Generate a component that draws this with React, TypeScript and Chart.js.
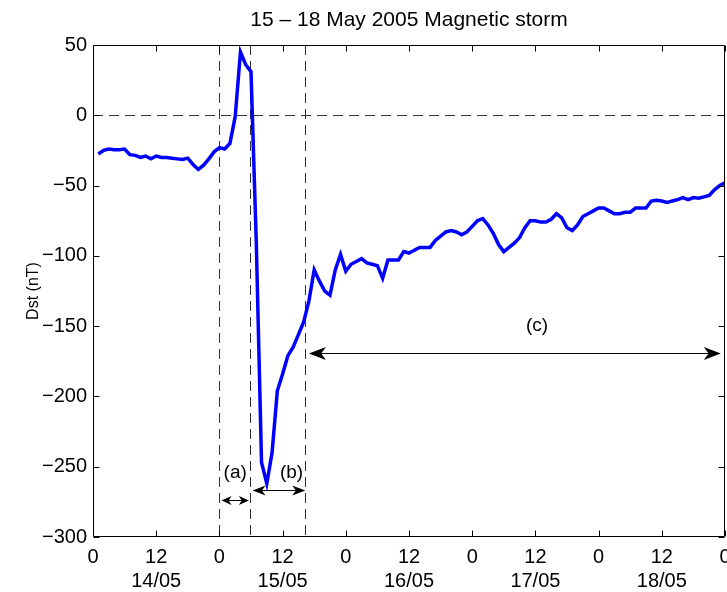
import { useEffect, useRef } from 'react';
import { Chart, registerables } from 'chart.js';

Chart.register(...registerables);

const TITLE = '15 \u2013 18 May 2005 Magnetic storm';
const Y_LABEL = 'Dst (nT)';

// hours since 14/05 00 UT
const HOURS = [
  1, 2, 3, 4, 5, 6, 7, 8, 9, 10, 11, 12, 13, 14, 15, 16, 17, 18, 19, 20,
  21, 22, 23, 24, 25, 26, 27, 28, 29, 30, 31, 32, 33, 34, 35, 36, 37, 38, 39, 40,
  41, 42, 43, 44, 45, 46, 47, 48, 49, 50, 51, 52, 53, 54, 55, 56, 57, 58, 59, 60,
  61, 62, 63, 64, 65, 66, 67, 68, 69, 70, 71, 72, 73, 74, 75, 76, 77, 78, 79, 80,
  81, 82, 83, 84, 85, 86, 87, 88, 89, 90, 91, 92, 93, 94, 95, 96, 97, 98, 99, 100,
  101, 102, 103, 104, 105, 106, 107, 108, 109, 110, 111, 112, 113, 114, 115, 116, 117, 118, 119, 120,
];

const DST = [
  -27.5, -25, -24, -24.5, -24.5, -24, -28, -28.5, -30, -29,
  -31, -29, -30, -30, -30.5, -31, -31.5, -30.5, -35, -38.5,
  -35.5, -31, -26, -23, -24, -20, -1, 45, 36, 31,
  -90, -247, -262, -240, -196, -184, -171, -165, -156, -147,
  -132, -110, -118, -125, -128, -110, -99, -111, -106, -104,
  -102, -105, -106, -107, -116, -103, -103, -103, -97, -98,
  -96, -94, -94, -94, -89, -86, -83, -82, -83, -85,
  -83, -79, -75, -73.5, -78, -84, -92, -97, -94, -91,
  -87, -80, -75, -75, -76, -76, -74, -70, -73, -80,
  -82, -78, -72, -70, -68, -66, -66, -68, -70, -70,
  -69, -69, -66, -66, -66, -61, -60.5, -61, -62, -61,
  -60, -58.5, -60, -58.5, -59, -58, -57, -53, -50, -48,
];

// x tick values (hours) and their labels
const X_TICKS = [0, 12, 24, 36, 48, 60, 72, 84, 96, 108, 120];
const X_TICK_LABELS = ['0', '12', '0', '12', '0', '12', '0', '12', '0', '12', '0'];
const X_DATE_LABELS = ['', '14/05', '', '15/05', '', '16/05', '', '17/05', '', '18/05', ''];
const Y_TICKS = [-300, -250, -200, -150, -100, -50, 0, 50];

// storm phase boundaries (hours)
const PHASE_BOUNDS = [24, 29.8, 40.3];
// arrows: [fromHour, toHour, dstLevel]
const ARROW_A = [24.4, 29.6, -273.5];
const ARROW_B = [30.3, 40.3, -266.5];
const ARROW_C = [41, 119.2, -169];
// labels: [text, hour, dst]
const PHASE_LABELS: [string, number, number][] = [
  ['(a)', 27, -254],
  ['(b)', 37.7, -254],
  ['(c)', 84.3, -150],
];

const FONT = "'Liberation Sans', Arial, Helvetica, sans-serif";

function arrowHead(ctx: CanvasRenderingContext2D, tipX: number, y: number, dir: number, len: number, half: number) {
  ctx.beginPath();
  ctx.moveTo(tipX, y);
  ctx.lineTo(tipX + dir * len, y - half);
  ctx.lineTo(tipX + dir * len * 0.72, y);
  ctx.lineTo(tipX + dir * len, y + half);
  ctx.closePath();
  ctx.fill();
}

function doubleArrow(chart: any, spec: number[], len: number, half: number) {
  const { ctx, scales } = chart;
  const x1 = scales.x.getPixelForValue(spec[0]);
  const x2 = scales.x.getPixelForValue(spec[1]);
  const y = Math.round(scales.y.getPixelForValue(spec[2])) + 0.5;
  ctx.beginPath();
  ctx.moveTo(x1 + len * 0.5, y);
  ctx.lineTo(x2 - len * 0.5, y);
  ctx.stroke();
  arrowHead(ctx, x1, y, 1, len, half);
  arrowHead(ctx, x2, y, -1, len, half);
}

const overlay = {
  id: 'overlay',
  beforeDatasetsDraw(chart: any) {
    const { ctx, chartArea, scales } = chart;
    const { left, right, top, bottom } = chartArea;
    ctx.save();
    ctx.strokeStyle = '#333333';
    ctx.lineWidth = 1;
    ctx.setLineDash([10, 6]);
    const y0 = Math.round(scales.y.getPixelForValue(0)) + 0.5;
    ctx.beginPath();
    ctx.moveTo(left, y0);
    ctx.lineTo(right, y0);
    ctx.stroke();
    for (const h of PHASE_BOUNDS) {
      const px = Math.round(scales.x.getPixelForValue(h)) + 0.5;
      ctx.beginPath();
      ctx.moveTo(px, top);
      ctx.lineTo(px, bottom);
      ctx.stroke();
    }
    ctx.restore();
  },
  afterDatasetsDraw(chart: any) {
    const { ctx, chartArea, scales } = chart;
    const { left, right, top, bottom } = chartArea;
    ctx.save();
    // arrows
    ctx.strokeStyle = '#000';
    ctx.fillStyle = '#000';
    ctx.lineWidth = 1;
    ctx.setLineDash([]);
    doubleArrow(chart, ARROW_A, 10, 4.5);
    doubleArrow(chart, ARROW_B, 13, 5);
    doubleArrow(chart, ARROW_C, 17, 6.5);
    // phase labels
    ctx.font = `19px ${FONT}`;
    ctx.textAlign = 'center';
    ctx.textBaseline = 'middle';
    for (const [t, h, v] of PHASE_LABELS) {
      ctx.fillText(t, scales.x.getPixelForValue(h), scales.y.getPixelForValue(v));
    }
    // box
    const L = Math.round(left) + 0.5;
    const R = Math.round(right) - 0.5;
    const T = Math.round(top) + 0.5;
    const B = Math.round(bottom) - 0.5;
    ctx.beginPath();
    ctx.rect(L, T, R - L, B - T);
    ctx.stroke();
    // inward ticks
    const tl = 6;
    ctx.beginPath();
    for (const h of X_TICKS) {
      const px = Math.round(scales.x.getPixelForValue(h)) + 0.5;
      ctx.moveTo(px, B);
      ctx.lineTo(px, B - tl);
      ctx.moveTo(px, T);
      ctx.lineTo(px, T + tl);
    }
    for (const v of Y_TICKS) {
      const py = Math.round(scales.y.getPixelForValue(v)) + 0.5;
      ctx.moveTo(L, py);
      ctx.lineTo(L + tl, py);
      ctx.moveTo(R, py);
      ctx.lineTo(R - tl, py);
    }
    ctx.stroke();
    ctx.restore();
  },
  afterDraw(chart: any) {
    const { ctx, chartArea } = chart;
    ctx.save();
    ctx.fillStyle = '#000';
    ctx.textAlign = 'center';
    ctx.textBaseline = 'middle';
    ctx.font = `21px ${FONT}`;
    ctx.fillText(TITLE, (chartArea.left + chartArea.right) / 2, 20);
    ctx.translate(34, (chartArea.top + chartArea.bottom) / 2);
    ctx.rotate(-Math.PI / 2);
    ctx.font = `16px ${FONT}`;
    ctx.fillText(Y_LABEL, 0, 0);
    ctx.restore();
  },
};

export default function App() {
  const ref = useRef<HTMLCanvasElement | null>(null);

  useEffect(() => {
    if (!ref.current) return;
    const chart = new Chart(ref.current, {
      type: 'line',
      data: {
        datasets: [
          {
            data: HOURS.map((h, i) => ({ x: h, y: DST[i] })),
            borderColor: '#0000ff',
            borderWidth: 3.5,
            pointRadius: 0,
            tension: 0,
            fill: false,
          },
        ],
      },
      options: {
        responsive: false,
        animation: false,
        events: [],
        layout: { autoPadding: false, padding: { left: 0, right: 2, top: 45, bottom: 0 } },
        plugins: { legend: { display: false }, title: { display: false }, tooltip: { enabled: false } },
        scales: {
          x: {
            type: 'linear',
            min: 0,
            max: 120,
            afterBuildTicks: (scale: any) => {
              scale.ticks = X_TICKS.map((v) => ({ value: v }));
            },
            afterFit: (scale: any) => {
              scale.height = 55;
              scale.paddingLeft = 0;
              scale.paddingRight = 0;
            },
            grid: { display: false, drawTicks: false },
            border: { display: false },
            ticks: {
              autoSkip: false,
              maxRotation: 0,
              minRotation: 0,
              padding: 8,
              color: '#000',
              font: { family: FONT, size: 20 },
              callback: (v: any) => {
                const i = X_TICKS.indexOf(Number(v));
                if (i < 0) return '';
                return X_DATE_LABELS[i] ? [X_TICK_LABELS[i], X_DATE_LABELS[i]] : X_TICK_LABELS[i];
              },
            },
          },
          y: {
            type: 'linear',
            min: -300,
            max: 50,
            afterBuildTicks: (scale: any) => {
              scale.ticks = Y_TICKS.map((v) => ({ value: v }));
            },
            afterFit: (scale: any) => {
              scale.width = 93;
              scale.paddingTop = 0;
              scale.paddingBottom = 0;
            },
            grid: { display: false, drawTicks: false },
            border: { display: false },
            ticks: {
              padding: 6,
              color: '#000',
              font: { family: FONT, size: 20 },
              callback: (v: any) => (Number(v) < 0 ? '\u2212' + Math.abs(Number(v)) : String(v)),
            },
          },
        },
      },
      plugins: [overlay],
    });
    return () => chart.destroy();
  }, []);

  return (
    <div style={{ position: 'absolute', left: 0, top: 0, width: 727, height: 592, background: '#fff' }}>
      <canvas ref={ref} width={727} height={592} style={{ display: 'block', width: 727, height: 592 }} />
    </div>
  );
}
